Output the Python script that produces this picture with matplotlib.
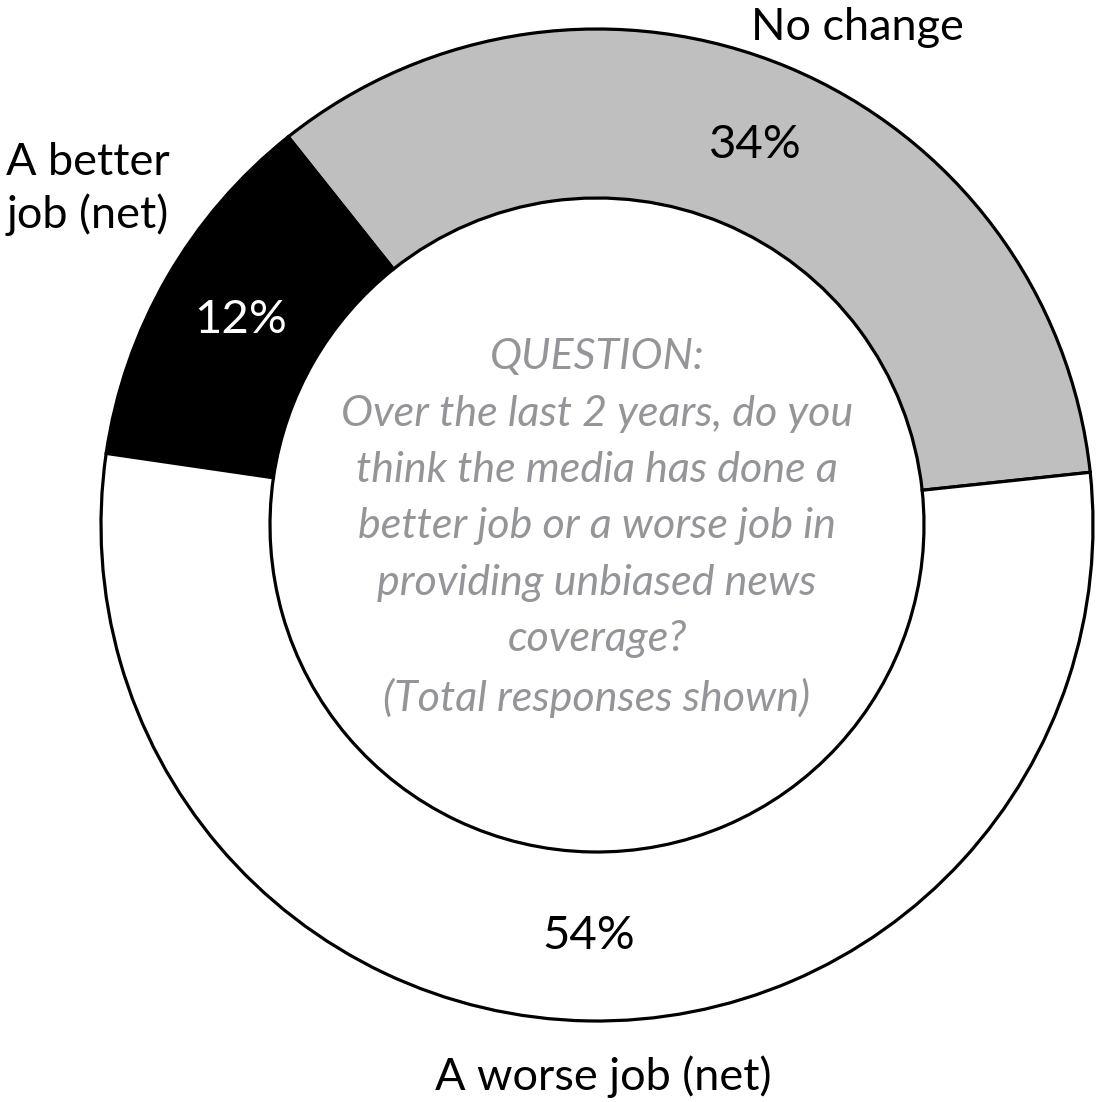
import matplotlib.pyplot as plt

# ---------- DATA ----------
categories = ["No change", "A better job (net)", "A worse job (net)"]
shares = [34, 12, 54]
colors = ["#bfbfbf", "#000000", "#ffffff"]
pct_colors = ["black", "white", "black"]

question = ("QUESTION:\nOver the last 2 years, do you\nthink the media has done a\n"
            "better job or a worse job in\nproviding unbiased news\ncoverage?\n"
            "(Total responses shown)")

plt.rcParams['font.family'] = ['Lato', 'DejaVu Sans']

# ---------- PLOT ----------
fig = plt.figure(figsize=(11.02, 11.02), dpi=100)
ax = fig.add_axes([0, 0, 1, 1])

H = 1102
cx, cy = 597, H - 525
r_out, r_in = 496, 327

wedges, texts, autotexts = ax.pie(
    shares, colors=colors, startangle=6.1, radius=r_out, center=(cx, cy),
    autopct='%.0f%%', pctdistance=(r_out + r_in) / 2 / r_out,
    wedgeprops=dict(width=r_out - r_in, edgecolor='black', linewidth=2.3),
    textprops=dict(fontsize=34), frame=True)
ax.set_xlim(0, 1102)
ax.set_ylim(0, 1102)
ax.set_aspect('equal')
ax.axis('off')
for t, c in zip(autotexts, pct_colors):
    t.set_color(c)

# category labels
ax.text(857, H - 27, categories[0], fontsize=32.5, ha='center', va='center')
ax.text(88, H - 189, "A better\njob (net)", fontsize=32.5, ha='center', va='center',
        linespacing=1.3)
ax.text(603, H - 1077, categories[2], fontsize=32.5, ha='center', va='center')

# question in the hole
ax.text(cx, H - 528, question, fontsize=31, style='italic', color='#939598',
        ha='center', va='center', linespacing=1.59)

fig.savefig("out.png", dpi=100)
